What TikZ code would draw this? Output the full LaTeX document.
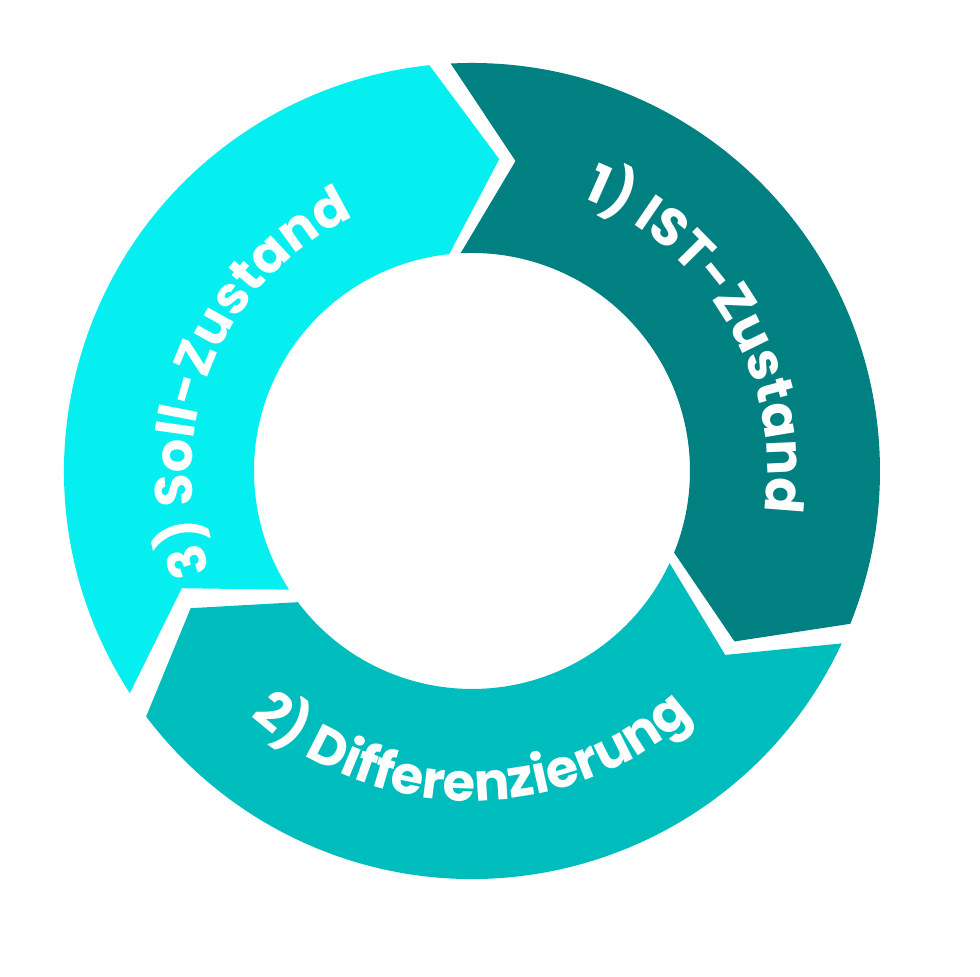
\documentclass[tikz,border=0pt]{standalone}
\usepackage{fontspec}
\newfontfamily\pop{Poppins}[UprightFont=* Bold]
\usetikzlibrary{decorations.text,calc}
\definecolor{dteal}{HTML}{008080}
\definecolor{mteal}{HTML}{00BDBD}
\definecolor{cyanc}{HTML}{05EEF0}
\begin{document}
\begin{tikzpicture}
\useasboundingbox (0,0) rectangle (9.80,9.77);
\coordinate (c) at (4.72,5.06);
\def\R{4.08}\def\r{2.18}\def\m{3.13}
\newcommand\seg[3]{%
  \fill[#3] ($(c)+(#1:\R)$) arc[start angle=#1,end angle=#2,radius=\R]
    -- ($(c)+({#2-11}:\m)$) -- ($(c)+(#2:\r)$)
    arc[start angle=#2,end angle=#1,radius=\r]
    -- ($(c)+({#1-11}:\m)$) -- cycle;}
\seg{213}{96}{cyanc}
\seg{93}{-22}{dteal}
\seg{335}{217}{mteal}
\tikzset{lbl/.style={decorate,decoration={text along path,text align=center,
  text={|\pop\fontsize{15}{15}\selectfont\color{white}|#1}}}}
\path[lbl={1) IST-Zustand}] ($(c)+(72:2.95)$) arc[start angle=72,end angle=-12,radius=2.95];
\path[lbl={3) Soll-Zustand}] ($(c)+(202:2.8)$) arc[start angle=202,end angle=114,radius=2.8];
\path[lbl={2) Differenzierung}] ($(c)+(222:3.30)$) arc[start angle=222,end angle=318,radius=3.30];
\end{tikzpicture}
\end{document}
